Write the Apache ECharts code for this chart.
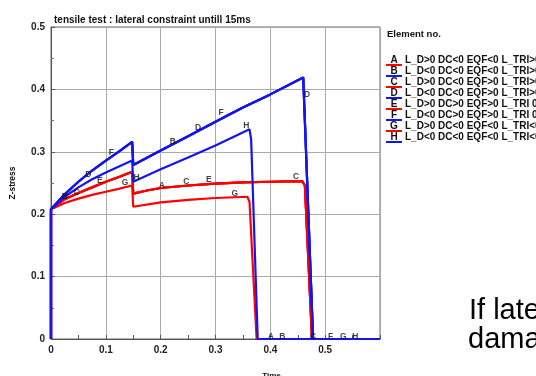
<!DOCTYPE html>
<html>
<head>
<meta charset="utf-8">
<script src="https://cdn.jsdelivr.net/npm/echarts@6/dist/echarts.min.js"></script>
<style>
html, body { margin: 0; padding: 0; background: #fff; }
#chart { width: 536px; height: 376px; }
</style>
</head>
<body>
<div id="chart"></div>
<script>
// curve ids, colours and legend captions
var curveIds = ['A', 'B', 'C', 'D', 'E', 'F', 'G', 'H']
var curveColors = ['#ff0000', '#1414f0', '#ff0000', '#1414f0', '#ff0000', '#1414f0', '#ff0000', '#1414f0']
var legendCaptions = [
    'L_D>0 DC<0 EQF<0 L_TRI>0',
    'L_D<0 DC<0 EQF<0 L_TRI>0',
    'L_D>0 DC<0 EQF>0 L_TRI>0',
    'L_D<0 DC<0 EQF>0 L_TRI>0',
    'L_D>0 DC>0 EQF>0 L_TRI 0',
    'L_D<0 DC>0 EQF>0 L_TRI 0',
    'L_D>0 DC<0 EQF<0 L_TRI<0',
    'L_D<0 DC<0 EQF<0 L_TRI<0'
]

// time / z-stress
var redUpper = [[0, 0], [0, 0.208], [0.025, 0.224], [0.05, 0.234], [0.075, 0.243], [0.1, 0.252], [0.125, 0.26], [0.148, 0.268],
    [0.15, 0.233], [0.175, 0.238], [0.2, 0.242], [0.25, 0.246], [0.3, 0.249], [0.35, 0.251], [0.4, 0.252], [0.458, 0.253],
    [0.463, 0.246], [0.476, 0], [0.6, 0]]
var redLower = [[0, 0], [0, 0.208], [0.025, 0.218], [0.05, 0.225], [0.075, 0.231], [0.1, 0.236], [0.125, 0.241], [0.148, 0.246],
    [0.15, 0.212], [0.2, 0.219], [0.25, 0.223], [0.3, 0.226], [0.358, 0.228], [0.362, 0.22], [0.375, 0], [0.6, 0]]
var blueUpper = [[0, 0], [0, 0.208], [0.025, 0.232], [0.05, 0.252], [0.075, 0.27], [0.1, 0.286], [0.125, 0.301], [0.148, 0.316],
    [0.15, 0.279], [0.2, 0.302], [0.25, 0.325], [0.3, 0.348], [0.35, 0.371], [0.4, 0.392], [0.46, 0.419],
    [0.478, 0], [0.6, 0]]
var blueLower = [[0, 0], [0, 0.208], [0.025, 0.228], [0.05, 0.243], [0.075, 0.256], [0.1, 0.267], [0.125, 0.277], [0.148, 0.286],
    [0.15, 0.252], [0.2, 0.272], [0.25, 0.291], [0.3, 0.31], [0.362, 0.336], [0.365, 0.32], [0.377, 0], [0.6, 0]]

var curveData = {
    A: redUpper, C: redUpper, E: redUpper, G: redLower,
    B: blueUpper, D: blueUpper, F: blueUpper, H: blueLower
}

// letters printed along the curves
var curveLetters = [
    [0.025, 0.228, 'B'], [0.047, 0.235, 'C'], [0.068, 0.263, 'D'], [0.089, 0.254, 'E'], [0.11, 0.298, 'F'],
    [0.135, 0.25, 'G'], [0.156, 0.258, 'H'], [0.202, 0.245, 'A'], [0.247, 0.252, 'C'], [0.288, 0.256, 'E'],
    [0.335, 0.233, 'G'], [0.222, 0.317, 'B'], [0.268, 0.339, 'D'], [0.31, 0.363, 'F'], [0.356, 0.342, 'H'],
    [0.467, 0.392, 'D'], [0.447, 0.26, 'C'],
    [0.401, 0.004, 'A'], [0.422, 0.004, 'B'], [0.478, 0.004, 'C'], [0.51, 0.004, 'F'], [0.533, 0.004, 'G'],
    [0.555, 0.004, 'H'], [0.601, 0.004, 'A']
]

var font = '"Liberation Sans", Arial, sans-serif'

var drawOrder = ['A', 'C', 'E', 'G', 'B', 'D', 'F', 'H']
var series = drawOrder.map(function (id) {
    return {
        name: id,
        type: 'line',
        data: curveData[id],
        symbol: 'none',
        lineStyle: { color: curveColors[curveIds.indexOf(id)], width: 2.2 },
        animation: false
    }
})
series.push({
    type: 'scatter',
    data: curveLetters,
    symbolSize: 1,
    itemStyle: { color: 'rgba(0,0,0,0)' },
    label: {
        show: true,
        position: 'inside',
        formatter: function (p) { return p.data[2] },
        color: '#111',
        fontSize: 8.5,
        fontWeight: 'bold',
        fontFamily: font
    },
    z: 5,
    animation: false
})

// legend drawn by hand: letter with coloured underline, then caption
var legendItems = [{
    type: 'text', left: 387, top: 29,
    style: { text: 'Element no.', font: 'bold 9.5px ' + font, fill: '#111' }
}]
curveIds.forEach(function (id, i) {
    var y = 60 + i * 11
    legendItems.push({
        type: 'text', x: 394, y: y,
        style: { text: id, font: 'bold 10px ' + font, fill: '#111', align: 'center', verticalAlign: 'middle' }
    })
    legendItems.push({
        type: 'rect', shape: { x: 386, y: y + 4, width: 16, height: 2 },
        style: { fill: curveColors[i] }
    })
    legendItems.push({
        type: 'text', x: 405, y: y,
        style: { text: legendCaptions[i], font: 'bold 10px ' + font, fill: '#111', verticalAlign: 'middle' }
    })
})
legendItems.push({
    type: 'text', x: 469, y: 311,
    style: { text: 'If lateral', font: '29px ' + font, fill: '#000', verticalAlign: 'middle' }
})
legendItems.push({
    type: 'text', x: 468, y: 340,
    style: { text: 'damage', font: '29px ' + font, fill: '#000', verticalAlign: 'middle' }
})

var myChart = echarts.init(document.getElementById('chart'))
var options = {
    backgroundColor: '#fff',
    title: {
        text: 'tensile test : lateral constraint untill 15ms',
        left: 49,
        top: 10,
        textStyle: { fontSize: 10, fontWeight: 'bold', color: '#111', fontFamily: font }
    },
    grid: {
        left: 51, right: 156, top: 27, bottom: 37,
        outerBoundsMode: 'none',
        show: true, borderColor: '#666', borderWidth: 1
    },
    xAxis: {
        type: 'value',
        min: 0, max: 0.6, interval: 0.1,
        name: 'Time',
        nameLocation: 'middle',
        nameGap: 33,
        nameTextStyle: { fontSize: 8, fontWeight: 'bold', color: '#111', fontFamily: font, padding: [0, 0, 0, 112] },
        axisLine: { lineStyle: { color: '#555' } },
        axisTick: { inside: true, length: 4, lineStyle: { color: '#555' } },
        minorTick: { show: true, splitNumber: 2, length: 4, lineStyle: { color: '#555' } },
        axisLabel: {
            margin: 6, fontSize: 10, fontWeight: 'bold', color: '#222', fontFamily: font,
            formatter: function (v) { return v > 0.55 ? '' : String(v) }
        },
        splitLine: { show: true, lineStyle: { color: '#aaa' } }
    },
    yAxis: {
        type: 'value',
        min: 0, max: 0.5, interval: 0.1,
        name: 'Z-stress',
        nameLocation: 'middle',
        nameGap: 34,
        nameTextStyle: { fontSize: 8.5, fontWeight: 'bold', color: '#111', fontFamily: font },
        axisLine: { show: true, lineStyle: { color: '#555' } },
        axisTick: { show: true, inside: true, length: 4, lineStyle: { color: '#555' } },
        minorTick: { show: true, splitNumber: 2, length: 3, lineStyle: { color: '#777' } },
        axisLabel: { margin: 6, fontSize: 10, fontWeight: 'bold', color: '#222', fontFamily: font },
        splitLine: { show: true, lineStyle: { color: '#aaa' } }
    },
    graphic: legendItems,
    series: series
}
myChart.setOption(options)
</script>
</body>
</html>
